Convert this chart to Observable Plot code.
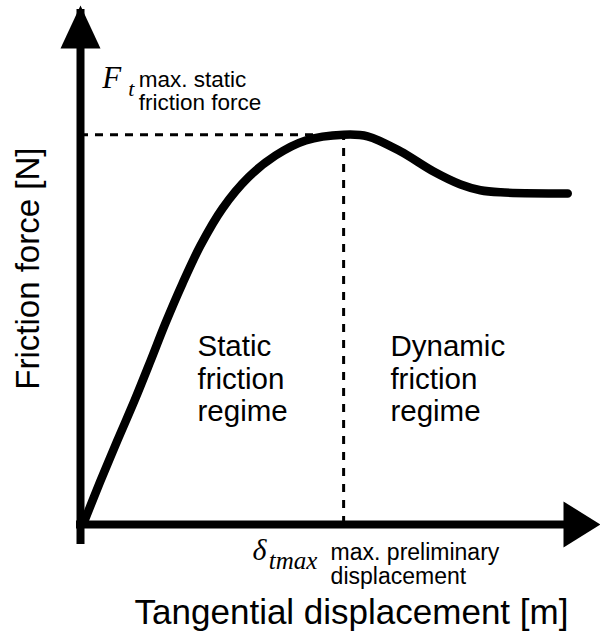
<!DOCTYPE html>
<html>
<head>
<meta charset="utf-8">
<script src="https://cdn.jsdelivr.net/npm/d3@7"></script>
<script src="https://cdn.jsdelivr.net/npm/@observablehq/plot@0.6"></script>
<style>
  html, body { margin: 0; padding: 0; background: #fff; }
  #chart svg { display: block; }
</style>
</head>
<body>
<div id="chart"></div>
<script>
// ---- data (arbitrary units) ----
const displacement = [0.08, 0.38, 0.71, 1.04, 1.35, 1.63, 1.96, 2.31, 2.73, 3.23, 3.75, 4.33, 5.06, 5.52, 6.15, 6.79, 7.31, 7.69, 8.08, 9.37];
const frictionForce = [0.08, 0.83, 1.62, 2.39, 3.16, 3.87, 4.64, 5.38, 6.09, 6.69, 7.11, 7.40, 7.51, 7.48, 7.19, 6.80, 6.55, 6.44, 6.40, 6.38];
const peakDisplacement = 5.06;   // δ_tmax
const peakForce = 7.51;          // F_t
const axisMaxX = 10;
const axisMaxY = 10;

const xLabel = "Tangential displacement [m]";
const yLabel = "Friction force [N]";
const forceSymbol = "F";
const forceSub = "t";
const forceNote = "max. static\nfriction force";
const dispSymbol = "δ";
const dispSub = "tmax";
const dispNote = "max. preliminary\ndisplacement";
const staticLabel = "Static\nfriction\nregime";
const dynamicLabel = "Dynamic\nfriction\nregime";

const curve = displacement.map((d, i) => ({x: d, y: frictionForce[i]}));

// filled arrowhead symbols with the tip at the origin, pointing along +x
const arrowX = {draw(ctx) { ctx.moveTo(0, 0); ctx.lineTo(-37, -23); ctx.lineTo(-37, 23); ctx.closePath(); }};
const arrowY = {draw(ctx) { ctx.moveTo(0, 0); ctx.lineTo(-43, -20); ctx.lineTo(-43, 20); ctx.closePath(); }};

const sans = "Liberation Sans, Arial, Helvetica, sans-serif";
const serif = "Liberation Serif, Times New Roman, serif";

const chart = Plot.plot({
  width: 600,
  height: 634,
  marginLeft: 80,
  marginRight: 0,
  marginTop: 5,
  marginBottom: 110,
  x: {domain: [0, axisMaxX], axis: null},
  y: {domain: [0, axisMaxY], axis: null},
  style: {fontFamily: sans, background: "#fff", overflow: "visible"},
  marks: [
    // dashed guides
    Plot.ruleY([{x1: 0, x2: peakDisplacement, y: peakForce}], {x1: "x1", x2: "x2", y: "y", stroke: "#000", strokeWidth: 3, strokeDasharray: "8,7"}),
    Plot.ruleX([{x: peakDisplacement, y1: 0, y2: peakForce}], {x: "x", y1: "y1", y2: "y2", stroke: "#000", strokeWidth: 3, strokeDasharray: "8,8"}),
    // axes
    Plot.ruleX([{x: 0, y1: 0, y2: axisMaxY}], {x: "x", y1: "y1", y2: "y2", stroke: "#000", strokeWidth: 8, insetBottom: -4, insetTop: 20}),
    Plot.ruleY([{y: 0, x1: 0, x2: axisMaxX}], {y: "y", x1: "x1", x2: "x2", stroke: "#000", strokeWidth: 8, insetLeft: -4, insetRight: 20}),
    Plot.dot([{x: axisMaxX, y: 0}], {x: "x", y: "y", symbol: arrowX, r: 10, fill: "#000", stroke: "none"}),
    Plot.dot([{x: 0, y: axisMaxY}], {x: "x", y: "y", symbol: arrowY, r: 10, fill: "#000", stroke: "none", rotate: -90}),
    // curve
    Plot.line(curve, {x: "x", y: "y", stroke: "#000", strokeWidth: 8.5, curve: "catmull-rom", strokeLinejoin: "round"}),
    // axis titles
    Plot.text([yLabel], {x: -1.0, y: 4.93, text: d => d, rotate: -90, fontSize: 33, textAnchor: "middle", lineAnchor: "middle", fill: "#000"}),
    Plot.text([xLabel], {x: 1.04, y: -1.91, text: d => d, fontSize: 35, textAnchor: "start", lineAnchor: "bottom", fill: "#000"}),
    // F_t annotation
    Plot.text([forceSymbol], {x: 0.42, y: 8.42, text: d => d, fontSize: 31, fontFamily: serif, fontStyle: "italic", textAnchor: "start", lineAnchor: "bottom", fill: "#000"}),
    Plot.text([forceSub], {x: 0.92, y: 8.25, text: d => d, fontSize: 22, fontFamily: serif, fontStyle: "italic", textAnchor: "start", lineAnchor: "bottom", fill: "#000"}),
    Plot.text([forceNote], {x: 1.12, y: 7.98, text: d => d, fontSize: 22.5, lineHeight: 1.05, textAnchor: "start", lineAnchor: "bottom", fill: "#000"}),
    // δ_tmax annotation
    Plot.text([dispSymbol], {x: 3.31, y: -0.69, text: d => d, fontSize: 30, fontFamily: serif, fontStyle: "italic", textAnchor: "start", lineAnchor: "bottom", fill: "#000"}),
    Plot.text([dispSub], {x: 3.62, y: -0.85, text: d => d, fontSize: 25, fontFamily: serif, fontStyle: "italic", textAnchor: "start", lineAnchor: "bottom", fill: "#000"}),
    Plot.text([dispNote], {x: 4.81, y: -1.15, text: d => d, fontSize: 23, lineHeight: 1.05, textAnchor: "start", lineAnchor: "bottom", fill: "#000"}),
    // regime labels
    Plot.text([staticLabel], {x: 2.25, y: 2.0, text: d => d, fontSize: 29.5, lineHeight: 1.09, textAnchor: "start", lineAnchor: "bottom", fill: "#000"}),
    Plot.text([dynamicLabel], {x: 5.96, y: 2.0, text: d => d, fontSize: 29.5, lineHeight: 1.09, textAnchor: "start", lineAnchor: "bottom", fill: "#000"})
  ]
});
document.getElementById("chart").appendChild(chart);
</script>
</body>
</html>
